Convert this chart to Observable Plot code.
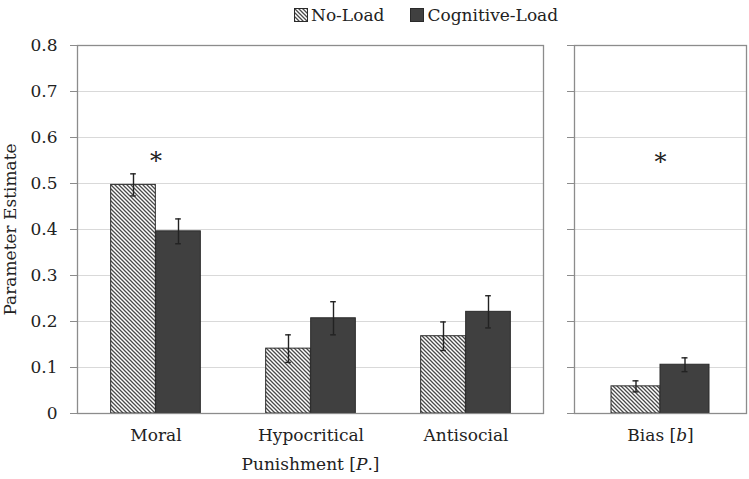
<!DOCTYPE html>
<html>
<head>
<meta charset="utf-8">
<script src="https://cdn.jsdelivr.net/npm/d3@7"></script>
<script src="https://cdn.jsdelivr.net/npm/@observablehq/plot@0.6"></script>
<style>
  html, body { margin: 0; padding: 0; background: #fff; }
  #wrap { position: relative; width: 749px; height: 479px; font-family: "DejaVu Serif", serif; color: #222; }
  #legend { position: absolute; left: 294px; top: 0; height: 30px; display: flex; align-items: center; font-size: 17px; white-space: nowrap; }
  #legend .item { display: flex; align-items: center; margin-right: 26px; }
  #legend svg { margin-right: 3px; }
  #plots { position: absolute; left: 0; top: 30px; display: flex; }
</style>
</head>
<body>
<div id="wrap">
  <div id="legend"></div>
  <div id="plots"></div>
</div>
<script>
// ---- data ----
const categories = ["Moral", "Hypocritical", "Antisocial"];
const biasCategory = ["Bias [b]"];
const seriesNames = ["No-Load", "Cognitive-Load"];
const noLoad = [0.497, 0.141, 0.168];
const noLoadErr = [0.024, 0.030, 0.031];
const cogLoad = [0.396, 0.207, 0.221];
const cogLoadErr = [0.027, 0.036, 0.035];
const biasNoLoad = [0.059];
const biasNoLoadErr = [0.012];
const biasCogLoad = [0.106];
const biasCogLoadErr = [0.015];
const yTicks = [0, 0.1, 0.2, 0.3, 0.4, 0.5, 0.6, 0.7, 0.8];
const starsLeft = [{cat: "Moral", y: 0.548}];
const starsRight = [{cat: "Bias [b]", y: 0.546}];

// ---- style ----
const DARK = "#404040";
const EDGE = "#2a2a2a";
const GRID = "#d9d9d9";
const FRAME = "#8c8c8c";

function rows(cats, vals, errs) {
  return cats.map((c, i) => ({cat: c, value: vals[i], lo: vals[i] - errs[i], hi: vals[i] + errs[i]}));
}

function addHatch(svg, id) {
  const defs = d3.select(svg).insert("defs", ":first-child");
  const p = defs.append("pattern").attr("id", id).attr("patternUnits", "userSpaceOnUse")
    .attr("width", 4).attr("height", 4);
  p.append("rect").attr("width", 4).attr("height", 4).attr("fill", "#fff");
  p.append("path").attr("d", "M0,0L4,4M-1,3L1,5M3,-1L5,1")
    .attr("stroke", "#4a4a4a").attr("stroke-width", 1.3);
}

function panel({cats, nl, cl, stars, width, marginLeft, marginRight, barW, hatchId, showYLabels, xLabel}) {
  const marginTop = 15, marginBottom = 66, height = 449;
  const bw = (width - marginLeft - marginRight) / cats.length;
  const half = bw / 2;
  const off = barW / 2;
  const cap = 3;
  const marks = [
    Plot.gridY(yTicks.filter(d => d > 0 && d < 0.8), {stroke: GRID, strokeOpacity: 1, strokeWidth: 1.2}),
    Plot.barY(nl, {x: "cat", y: "value", fill: `url(#${hatchId})`, stroke: EDGE, strokeWidth: 1,
      insetLeft: half - barW, insetRight: half}),
    Plot.barY(cl, {x: "cat", y: "value", fill: DARK, stroke: EDGE, strokeWidth: 1,
      insetLeft: half, insetRight: half - barW}),
    Plot.ruleX(nl, {x: "cat", y1: "lo", y2: "hi", dx: -off, stroke: "#222", strokeWidth: 1.4}),
    Plot.ruleX(cl, {x: "cat", y1: "lo", y2: "hi", dx: off, stroke: "#222", strokeWidth: 1.4}),
    Plot.tickY(nl, {x: "cat", y: "lo", insetLeft: half - off - cap, insetRight: half + off - cap, stroke: "#222", strokeWidth: 1.4}),
    Plot.tickY(nl, {x: "cat", y: "hi", insetLeft: half - off - cap, insetRight: half + off - cap, stroke: "#222", strokeWidth: 1.4}),
    Plot.tickY(cl, {x: "cat", y: "lo", insetLeft: half + off - cap, insetRight: half - off - cap, stroke: "#222", strokeWidth: 1.4}),
    Plot.tickY(cl, {x: "cat", y: "hi", insetLeft: half + off - cap, insetRight: half - off - cap, stroke: "#222", strokeWidth: 1.4}),
    Plot.text(stars, {x: "cat", y: "y", text: () => "*", fontSize: 24, fill: "#222"}),
    Plot.axisY({ticks: yTicks, tickSize: 7, tickPadding: showYLabels ? 13 : 0, stroke: FRAME,
      tickFormat: showYLabels ? (d => d === 0 ? "0" : d.toFixed(1)) : () => "",
      label: showYLabels ? "Parameter Estimate" : null, labelAnchor: "center", labelArrow: "none", labelOffset: 74}),
    Plot.axisX({tickSize: 0, tickPadding: 15, label: xLabel, labelAnchor: "center", labelArrow: "none", labelOffset: 56}),
    Plot.frame({stroke: FRAME, strokeWidth: 1.3})
  ];
  const svg = Plot.plot({
    width, height, marginLeft, marginRight, marginTop, marginBottom,
    style: {fontFamily: "DejaVu Serif, serif", fontSize: "17px", color: "#222", background: "#fff", overflow: "visible"},
    x: {type: "band", domain: cats, paddingInner: 0, paddingOuter: 0},
    y: {domain: [0, 0.8], ticks: yTicks},
    marks
  });
  addHatch(svg, hatchId);
  return svg;
}

function italicize(svg, plain, parts) {
  d3.select(svg).selectAll("text, text tspan").each(function () {
    const t = d3.select(this);
    if (this.childElementCount === 0 && t.text() === plain) {
      t.text(null);
      parts.forEach(([s, it]) => {
        const ts = t.append("tspan").text(s);
        if (it) ts.attr("font-style", "italic");
      });
    }
  });
}

const left = panel({
  cats: categories, nl: rows(categories, noLoad, noLoadErr), cl: rows(categories, cogLoad, cogLoadErr),
  stars: starsLeft, width: 545, marginLeft: 77, marginRight: 2, barW: 45, hatchId: "hatchL",
  showYLabels: true, xLabel: "Punishment [P.]"
});
const right = panel({
  cats: biasCategory, nl: rows(biasCategory, biasNoLoad, biasNoLoadErr), cl: rows(biasCategory, biasCogLoad, biasCogLoadErr),
  stars: starsRight, width: 204, marginLeft: 29, marginRight: 3, barW: 49, hatchId: "hatchR",
  showYLabels: false, xLabel: null
});
italicize(left, "Punishment [P.]", [["Punishment [", false], ["P", true], [".]", false]]);
italicize(right, "Bias [b]", [["Bias [", false], ["b", true], ["]", false]]);

document.getElementById("plots").append(left, right);

// legend
const legend = d3.select("#legend");
seriesNames.forEach((name, i) => {
  const item = legend.append("div").attr("class", "item");
  const sw = item.append("svg").attr("width", 14).attr("height", 14);
  if (i === 0) {
    const p = sw.append("defs").append("pattern").attr("id", "hatchLegend").attr("patternUnits", "userSpaceOnUse")
      .attr("width", 4).attr("height", 4);
    p.append("rect").attr("width", 4).attr("height", 4).attr("fill", "#fff");
    p.append("path").attr("d", "M0,0L4,4M-1,3L1,5M3,-1L5,1").attr("stroke", "#4a4a4a").attr("stroke-width", 1.3);
    sw.append("rect").attr("x", 0.5).attr("y", 0.5).attr("width", 13).attr("height", 13)
      .attr("fill", "url(#hatchLegend)").attr("stroke", EDGE);
  } else {
    sw.append("rect").attr("x", 0.5).attr("y", 0.5).attr("width", 13).attr("height", 13)
      .attr("fill", DARK).attr("stroke", EDGE);
  }
  item.append("span").text(name);
});
</script>
</body>
</html>
